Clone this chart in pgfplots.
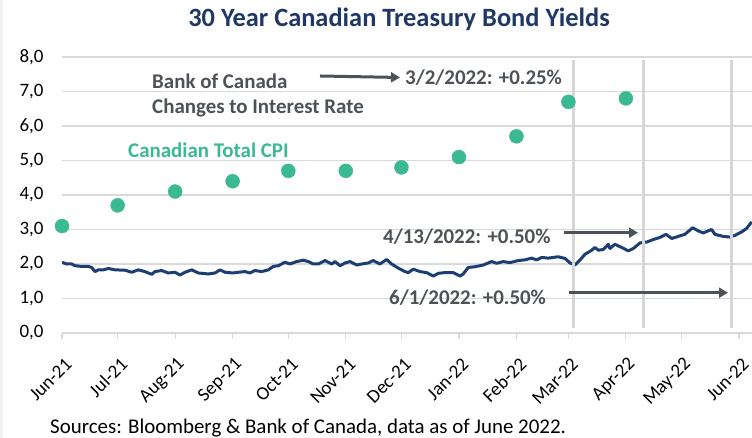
\documentclass[border=0pt]{standalone}
\usepackage{pgfplots}
\pgfplotsset{compat=1.18}
\usepackage{fontspec}
\setmainfont{Carlito}
\usetikzlibrary{arrows.meta}
\definecolor{navy}{HTML}{1D3E72}
\definecolor{titlenavy}{HTML}{1F3864}
\definecolor{teal}{HTML}{3BB993}
\definecolor{txtgray}{HTML}{4D5258}
\definecolor{gridgray}{HTML}{D9D9D9}
\definecolor{vgray}{HTML}{D6D6D6}
\begin{document}
\begin{tikzpicture}[x=1bp,y=1bp]
\path[use as bounding box] (0,0) rectangle (752,438);
\fill[black!5] (0,0) rectangle (3,438);
\begin{axis}[
  at={(62bp,105bp)}, anchor=south west,
  scale only axis, width=690bp, height=276bp,
  xmin=0, xmax=372, ymin=0, ymax=8,
  axis x line*=bottom, axis y line*=left,
  y axis line style={draw=none},
  x axis line style={draw=gridgray, line width=1.5bp},
  ytick={0,1,...,8},
  ytick style={draw=none},
  ymajorgrids, grid style={draw=gridgray, line width=1.2bp},
  xtick={0,30,61,92,122,153,183,214,245,273,304,334,365},
  xticklabels={Jun-21,Jul-21,Aug-21,Sep-21,Oct-21,Nov-21,Dec-21,Jan-22,Feb-22,Mar-22,Apr-22,May-22,Jun-22},
  xtick align=outside, major tick length=6bp,
  xtick style={draw=gridgray, line width=1.2bp},
  xticklabel style={xshift=9bp, yshift=-20bp, rotate=45, anchor=east, font=\fontsize{19}{22}\selectfont},
  yticklabel style={font=\fontsize{19}{22}\selectfont, xshift=-15bp},
  /pgf/number format/.cd, fixed, fixed zerofill, precision=1, use comma, assume math mode=true,
]
\addplot[navy, line width=3bp, line join=round] coordinates {
(0,2.05) (2.5,2.0) (5.2,2.0) (7,1.95) (10.6,1.93) (14.2,1.93) (16,1.90) (17.8,1.78) (19.6,1.83) (22.3,1.83) (25,1.87) (28.6,1.83) (34,1.82) (37.6,1.76) (41.1,1.83) (44.7,1.78) (48.4,1.70) (50.1,1.78) (53.7,1.81) (57.3,1.74) (60.9,1.76) (63.6,1.68) (66.3,1.76) (69.9,1.83) (73.5,1.74) (78.9,1.71) (82.5,1.74) (85.2,1.83) (87.9,1.76) (92.3,1.74) (95,1.76) (98.7,1.78) (101.3,1.74) (104,1.81) (107.7,1.78) (111.2,1.83) (113.9,1.93) (116.6,1.95) (120.2,2.05) (122.9,2.0) (126.5,2.07) (130.1,2.11) (132.8,2.07) (135.5,2.0) (138.2,2.0) (141.8,2.10) (145.4,2.0) (147.2,2.07) (149.9,1.95) (152.6,2.03) (155.3,2.07) (158.9,1.97) (161.6,2.0) (165.1,2.03) (167.8,2.10) (171.4,2.0) (175,2.13) (177.7,2.0) (181.3,1.88) (184.9,1.78) (186.7,1.75) (189.4,1.85) (193,1.78) (196.6,1.75) (200.2,1.65) (202.9,1.73) (206.5,1.75) (210.9,1.75) (214.6,1.65) (216.3,1.71) (219,1.90) (222.6,1.92) (227.1,1.97) (231.6,2.07) (234.3,2.02) (237.9,2.07) (241.5,2.04) (246,2.10) (249.6,2.12) (253.2,2.17) (255.9,2.12) (258.6,2.19) (262.2,2.17) (267.5,2.21) (271.2,2.16) (273.9,2.03) (276.5,1.97) (279.2,2.11) (281.9,2.28) (285.6,2.40) (287.3,2.48) (289.1,2.40) (291.8,2.42) (294.5,2.57) (295.4,2.45) (298.1,2.57) (301.7,2.48) (305.3,2.38) (308,2.45) (311.6,2.61) (315.5,2.64) (318.8,2.71) (322.4,2.77) (325.6,2.86) (328.7,2.74) (332.2,2.80) (335.8,2.86) (340,3.05) (343,2.96) (345.7,2.90) (350.2,3.00) (352,2.86) (356.5,2.80) (360.1,2.78) (362.8,2.83) (366.4,2.93) (369.1,3.03) (371.8,3.22)
};
\addplot[only marks, mark=*, mark size=7bp, mark options={draw=teal, fill=teal}] coordinates {
(0,3.1) (30,3.7) (61,4.1) (92,4.4) (122,4.7) (153,4.7) (183,4.8) (214,5.1) (245,5.7) (273,6.7) (304,6.8)
};
\addplot[vgray, line width=3bp] coordinates {(275.5,0.14) (275.5,7.92)};
\addplot[vgray, line width=3bp] coordinates {(313.7,0.14) (313.7,7.92)};
\addplot[vgray, line width=3bp] coordinates {(360.9,0.14) (360.9,7.92)};
\end{axis}
\node[font=\fontsize{26.5}{30}\selectfont\bfseries, text=titlenavy] at (399,419) {30 Year Canadian Treasury Bond Yields};
\node[anchor=west, inner sep=0pt, font=\fontsize{21}{25}\selectfont\bfseries, text=txtgray] at (152,357) {Bank of Canada};
\node[anchor=west, inner sep=0pt, font=\fontsize{21}{25}\selectfont\bfseries, text=txtgray] at (152,330) {Changes to Interest Rate};
\node[anchor=west, inner sep=0pt, font=\fontsize{21}{25}\selectfont\bfseries, text=txtgray] at (405,360) {3/2/2022: +0.25\%};
\node[anchor=west, inner sep=0pt, font=\fontsize{21}{25}\selectfont\bfseries, text=teal] at (128,288) {Canadian Total CPI};
\node[anchor=west, inner sep=0pt, font=\fontsize{21}{25}\selectfont\bfseries, text=txtgray] at (383,201) {4/13/2022: +0.50\%};
\node[anchor=west, inner sep=0pt, font=\fontsize{21}{25}\selectfont\bfseries, text=txtgray] at (389,140) {6/1/2022: +0.50\%};
\draw[txtgray, line width=3bp, -{Triangle[length=9bp,width=10bp]}] (320,362) -- (400,360.5);
\draw[txtgray, line width=3bp, -{Triangle[length=9bp,width=10bp]}] (564,205.3) -- (638,205.3);
\draw[txtgray, line width=3bp, -{Triangle[length=9bp,width=10bp]}] (569,145.3) -- (728,145.3);
\node[anchor=west, inner sep=0pt, font=\fontsize{21}{25}\selectfont] at (50,10) {Sources: Bloomberg \& Bank of Canada, data as of June 2022.};
\end{tikzpicture}
\end{document}
